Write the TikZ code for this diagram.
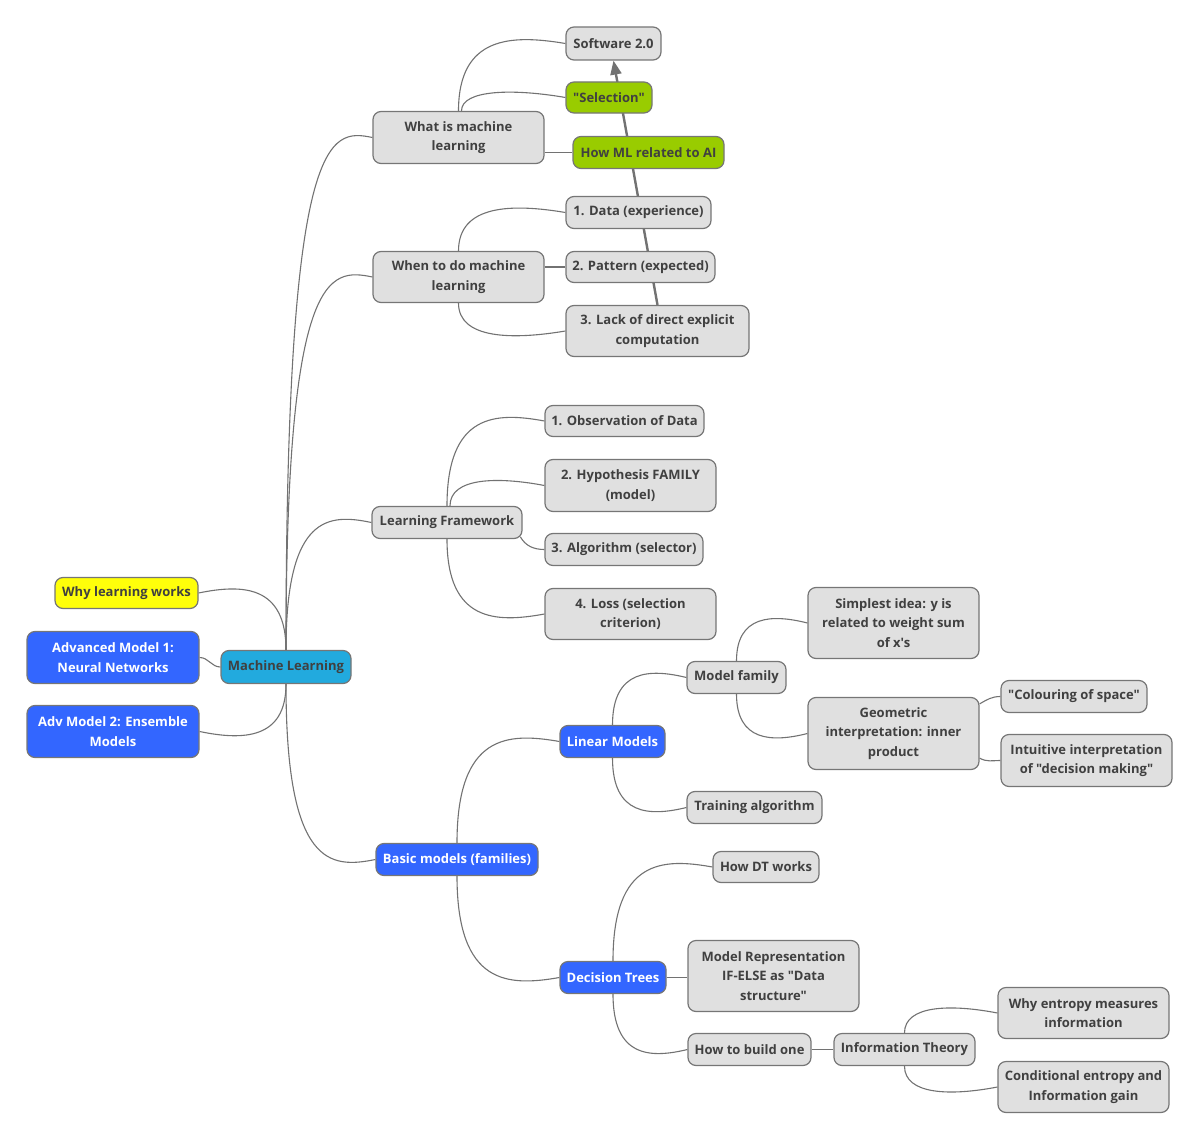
\documentclass[tikz,border=0pt]{standalone}
\usepackage{fontspec}
\newfontfamily\osf{Open Sans}
\usetikzlibrary{calc,arrows.meta,backgrounds}
\definecolor{gfill}{HTML}{E0E0E0}
\definecolor{bord}{HTML}{767676}
\definecolor{txt}{HTML}{404040}
\definecolor{lnk}{HTML}{727272}
\definecolor{bluef}{HTML}{3366FF}
\definecolor{tealf}{HTML}{22AADE}
\definecolor{greenf}{HTML}{99CC00}
\definecolor{yellowf}{HTML}{FFFF0A}
\tikzset{
  box/.style={draw=bord, line width=1.2pt, rounded corners=8pt, fill=gfill, text=txt,
    font=\osf\bfseries\fontsize{13}{19.5}\selectfont, align=center, inner sep=0pt},
  bluebox/.style={box, fill=bluef, text=white},
  greenbox/.style={box, fill=greenf},
  tealbox/.style={box, fill=tealf},
  yellowbox/.style={box, fill=yellowf},
  link/.style={draw=lnk, line width=1.1pt},
  mmu/.style={to path={let \p1=(\tikztostart), \p2=(\tikztotarget) in
     .. controls (\x1,{\y2+8pt}) and ({\x1+0.5*(\x2-\x1)},{\y2+9pt}) .. (\tikztotarget)}},
  mmd/.style={to path={let \p1=(\tikztostart), \p2=(\tikztotarget) in
     .. controls (\x1,{\y2-8pt}) and ({\x1+0.5*(\x2-\x1)},{\y2-9pt}) .. (\tikztotarget)}},
}
\begin{document}
\begin{tikzpicture}[x=1pt,y=-1pt]
\useasboundingbox (0,0) rectangle (1200,1140);
% nodes
\node[box, minimum width=95pt, minimum height=33pt] (soft) at (613.5,43.5) {Software 2.0};
\node[greenbox, minimum width=86pt, minimum height=31pt] (sel) at (609,97.5) {"Selection"};
\node[box, minimum width=171pt, minimum height=52pt] (what) at (458.5,137.5) {What is machine\\learning};
\node[greenbox, minimum width=151pt, minimum height=32pt] (howml) at (648.5,152.5) {How ML related to AI};
\node[box, minimum width=145pt, minimum height=32pt] (data) at (638.5,212.5) {1. Data (experience)};
\node[box, minimum width=149pt, minimum height=31pt] (pattern) at (640.5,267) {2. Pattern (expected)};
\node[box, minimum width=183pt, minimum height=51pt] (lack) at (657.5,331) {3. Lack of direct explicit\\computation};
\node[box, minimum width=171pt, minimum height=51pt] (when) at (458.5,277) {When to do machine\\learning};
\node[box, minimum width=159pt, minimum height=31pt] (obs) at (624.5,421) {1. Observation of Data};
\node[box, minimum width=171pt, minimum height=52pt] (hyp) at (630.5,485.5) {2. Hypothesis FAMILY\\(model)};
\node[box, minimum width=150pt, minimum height=32pt] (lf) at (447,522.5) {Learning Framework};
\node[box, minimum width=158pt, minimum height=32pt] (alg) at (624,549.5) {3. Algorithm (selector)};
\node[box, minimum width=171pt, minimum height=51pt] (loss) at (630.5,614) {4. Loss (selection\\criterion)};
\node[yellowbox, minimum width=143pt, minimum height=31pt] (why) at (126.5,593) {Why learning works};
\node[bluebox, minimum width=172pt, minimum height=52pt] (adv1) at (113,657.5) {Advanced Model 1:\\Neural Networks};
\node[bluebox, minimum width=172pt, minimum height=52pt] (adv2) at (113,731.5) {Adv Model 2: Ensemble\\Models};
\node[tealbox, minimum width=130pt, minimum height=33pt] (ml) at (286,667) {Machine Learning};
\node[box, minimum width=171pt, minimum height=71pt] (simp) at (893.5,623) {Simplest idea: y is\\related to weight sum\\of x's};
\node[box, minimum width=99pt, minimum height=32pt] (mf) at (736.5,677.5) {Model family};
\node[box, minimum width=171pt, minimum height=72pt] (geo) at (893.5,733.5) {Geometric\\interpretation: inner\\product};
\node[box, minimum width=146pt, minimum height=32pt] (col) at (1074,696.5) {"Colouring of space"};
\node[box, minimum width=171pt, minimum height=52pt] (intu) at (1086.5,760.5) {Intuitive interpretation\\of "decision making"};
\node[bluebox, minimum width=105pt, minimum height=32pt] (lin) at (612.5,741.5) {Linear Models};
\node[box, minimum width=135pt, minimum height=32pt] (train) at (754.5,807.5) {Training algorithm};
\node[bluebox, minimum width=162pt, minimum height=32pt] (basic) at (457,859.5) {Basic models (families)};
\node[box, minimum width=106pt, minimum height=31pt] (dtw) at (766,867) {How DT works};
\node[bluebox, minimum width=106pt, minimum height=32pt] (dt) at (613,977.5) {Decision Trees};
\node[box, minimum width=171pt, minimum height=71pt] (rep) at (773.5,976) {Model Representation\\IF-ELSE as "Data\\structure"};
\node[box, minimum width=123pt, minimum height=32pt] (build) at (749.5,1049.5) {How to build one};
\node[box, minimum width=141pt, minimum height=32pt] (info) at (904.5,1049.5) {Information Theory};
\node[box, minimum width=171pt, minimum height=51pt] (wye) at (1083.5,1013) {Why entropy measures\\information};
\node[box, minimum width=171pt, minimum height=51pt] (cond) at (1083.5,1087) {Conditional entropy and\\Information gain};
% connectors
\begin{scope}[on background layer]
\draw[draw=lnk, line width=2.4pt, -{Triangle[length=14pt,width=11pt]}] (lack.north) -- (soft.south);
\path[link] (ml.north) to[mmu] (what.west);
\path[link] (ml.north) to[mmu] (when.west);
\path[link] (ml.north) to[mmu] (lf.west);
\path[link] (ml.south) to[mmd] (basic.west);
\path[link] (ml.north) to[mmu] (why.east);
\path[link] (ml.west) to[out=180,in=0] (adv1.east);
\path[link] (ml.south) to[mmd] (adv2.east);
\path[link] (what.north) to[mmu] (soft.west);
\path[link] ([xshift=3pt]what.north) to[mmu] (sel.west);
\path[link] (what.east |- howml.west) -- (howml.west);
\path[link] (when.north) to[mmu] (data.west);
\path[link] (when.east |- pattern.west) -- (pattern.west);
\path[link] (when.south) to[mmd] (lack.west);
\path[link] (lf.north) to[mmu] (obs.west);
\path[link] ([xshift=3pt]lf.north) to[mmu] (hyp.west);
\path[link] ($(lf.south east)+(-2.3,-2.3)$) to[out=-60,in=180] (alg.west);
\path[link] (lf.south) to[mmd] (loss.west);
\path[link] (basic.north) to[mmu] (lin.west);
\path[link] (basic.south) to[mmd] (dt.west);
\path[link] (lin.north) to[mmu] (mf.west);
\path[link] (lin.south) to[mmd] (train.west);
\path[link] (mf.north) to[mmu] (simp.west);
\path[link] (mf.south) to[mmd] (geo.west);
\path[link] ($(geo.north east)+(0,7)$) to[out=30,in=180] (col.west);
\path[link] ($(geo.south east)+(0,-12)$) to[out=-30,in=180] (intu.west);
\path[link] (dt.north) to[mmu] (dtw.west);
\path[link] (dt.east) -- (dt.east -| rep.west);
\path[link] (dt.south) to[mmd] (build.west);
\path[link] (build.east) -- (info.west);
\path[link] (info.north) to[mmu] (wye.west);
\path[link] (info.south) to[mmd] (cond.west);
\end{scope}
\end{tikzpicture}
\end{document}
